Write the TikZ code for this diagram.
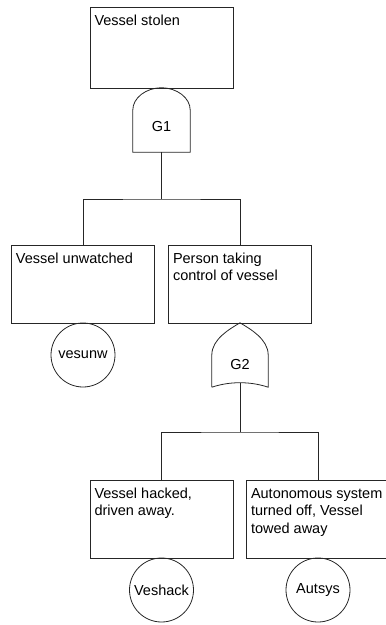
\documentclass[tikz,border=0pt]{standalone}
\usepackage{fontspec}
\setmainfont{Liberation Sans}
\newcommand{\evtext}[2][66pt]{\parbox[c][#1][t]{134pt}{\raggedright\strut #2}}
\tikzset{
  event/.style={draw=black!85,line width=.8pt,inner xsep=4.5pt,inner ysep=6pt},
  basic/.style={draw=black!85,line width=.8pt,circle,minimum size=64pt,inner sep=0pt},
  gate/.style={minimum width=57pt,minimum height=64pt,inner sep=0pt},
  wire/.style={black!85,line width=.8pt}
}
\begin{document}
\begin{tikzpicture}[x=1pt,y=-1pt,font=\fontsize{14.5}{17.5}\selectfont]
\useasboundingbox (0,0) rectangle (386,625);
\node[event] (stolen) at (161.5,47.5) {\evtext[69pt]{Vessel stolen}};
\node[gate,label={[yshift=-7pt]center:G1}] (g1) at (161.5,120) {};
\draw[wire] (g1.south west) -- ([yshift=10pt]g1.west)
  .. controls ([yshift=22pt]g1.west) and ([xshift=-15.7pt]g1.north) .. (g1.north)
  .. controls ([xshift=15.7pt]g1.north) and ([yshift=22pt]g1.east) .. ([yshift=10pt]g1.east)
  -- (g1.south east) -- cycle;
\node[event] (unw) at (83,284) {\evtext{Vessel unwatched}};
\node[event] (pers) at (240,284) {\evtext{Person taking\\control of vessel}};
\node[basic] (vesunw) at (83,355) {vesunw};
\node[gate,minimum width=56pt,label={[yshift=-10pt]center:G2}] (g2) at (240,355) {};
\draw[wire] (g2.south west) -- (g2.west)
  .. controls ([yshift=16pt]g2.west) and ([shift={(-10pt,-6pt)}]g2.north) .. (g2.north)
  .. controls ([shift={(10pt,-6pt)}]g2.north) and ([yshift=16pt]g2.east) .. (g2.east)
  -- (g2.south east)
  .. controls ([shift={(-18pt,6pt)}]g2.south east) and ([shift={(18pt,6pt)}]g2.south west) .. (g2.south west);
\node[event] (hack) at (161.5,519) {\evtext{Vessel hacked,\\driven away.}};
\node[event] (auto) at (318,519) {\evtext{Autonomous system\\turned off, Vessel\\towed away}};
\node[basic] (veshack) at (161.5,590) {Veshack};
\node[basic] (autsys) at (318,590) {Autsys};
\coordinate (j1) at (161.5,199);
\coordinate (j2) at (240,432);
\draw[wire] (g1.south) -- (j1);
\draw[wire] (unw.north) |- (j1) -| (pers.north);
\draw[wire] ([yshift=4.5pt]g2.south) -- (j2);
\draw[wire] (hack.north) |- (j2) -| (auto.north);
\end{tikzpicture}
\end{document}
